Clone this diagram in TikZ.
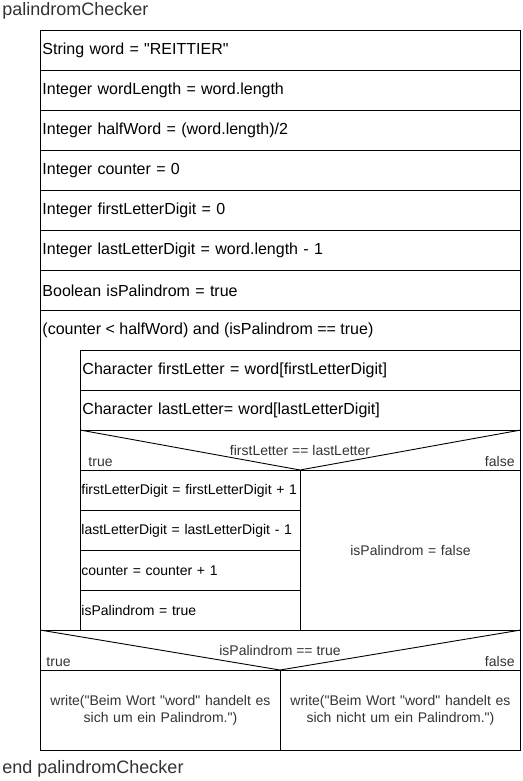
\documentclass[tikz,border=0pt]{standalone}
\usepackage{fontspec}
\setmainfont{Liberation Sans}
\newcommand{\dq}{\textquotedbl}
\begin{document}
\begin{tikzpicture}[x=1pt,y=-1pt,
  line width=0.9pt,
  big/.style={font=\fontsize{16}{19}\selectfont},
  small/.style={font=\fontsize{14}{16.5}\selectfont},
  cell/.style={draw, anchor=north west, inner xsep=2pt, inner ysep=0pt, align=left, big},
  scell/.style={draw, anchor=north west, inner xsep=1pt, inner ysep=0pt, align=left, small},
  ccell/.style={draw, anchor=north west, inner xsep=2pt, inner ysep=0pt, align=center, small, text=grey},
  lbl/.style={inner sep=0pt, small, text=grey},
]
\definecolor{grey}{HTML}{333333}
\useasboundingbox (0,0) rectangle (522,781);
\fill[white] (0,0) rectangle (522,781);

\node[anchor=west, inner sep=0pt, text=grey, font=\fontsize{18}{21}\selectfont] (title) at (2,11) {palindromChecker};

% outer frame
\node[draw, anchor=north west, minimum width=480pt, minimum height=720pt, inner sep=0pt] (frame) at (40,30) {};

\node[cell, minimum width=480pt, minimum height=40pt, text width=476pt] (r1) at (40,30) {String word = \dq REITTIER\dq};
\node[cell, minimum width=480pt, minimum height=40pt, text width=476pt] (r2) at (40,70) {Integer wordLength = word.length};
\node[cell, minimum width=480pt, minimum height=40pt, text width=476pt] (r3) at (40,110) {Integer halfWord = (word.length)/2};
\node[cell, minimum width=480pt, minimum height=40pt, text width=476pt] (r4) at (40,150) {Integer counter = 0};
\node[cell, minimum width=480pt, minimum height=40pt, text width=476pt] (r5) at (40,190) {Integer firstLetterDigit = 0};
\node[cell, minimum width=480pt, minimum height=40pt, text width=476pt] (r6) at (40,230) {Integer lastLetterDigit = word.length - 1};
\node[cell, minimum width=480pt, minimum height=40pt, text width=476pt] (r7) at (40,270) {Boolean isPalindrom = true};

% loop
\node[draw, anchor=north west, minimum width=480pt, minimum height=320pt, inner sep=0pt] (loop) at (40,310) {};
\node[anchor=west, inner xsep=2pt, big] (loophead) at (40,330) {(counter < halfWord) and (isPalindrom == true)};

\node[cell, minimum width=440pt, minimum height=40pt, text width=436pt] (l1) at (80,350) {Character firstLetter = word[firstLetterDigit]};
\node[cell, minimum width=440pt, minimum height=40pt, text width=436pt] (l2) at (80,390) {Character lastLetter= word[lastLetterDigit]};

% inner if
\node[draw, anchor=north west, minimum width=440pt, minimum height=40pt, inner sep=0pt] (if1) at (80,430) {};
\coordinate (if1apex) at (300,470);
\draw (if1.north west) -- (if1apex) -- (if1.north east);
\node[lbl, anchor=base] (if1cond) at (300,455) {firstLetter == lastLetter};
\node[lbl, anchor=base west] (if1t) at (88,466) {true};
\node[lbl, anchor=base east] (if1f) at (515,466) {false};

\node[scell, minimum width=220pt, minimum height=40pt, text width=218pt] (t1) at (80,470) {firstLetterDigit = firstLetterDigit + 1};
\node[scell, minimum width=220pt, minimum height=40pt, text width=218pt] (t2) at (80,510) {lastLetterDigit = lastLetterDigit - 1};
\node[scell, minimum width=220pt, minimum height=40pt, text width=218pt] (t3) at (80,550) {counter = counter + 1};
\node[scell, minimum width=220pt, minimum height=40pt, text width=218pt] (t4) at (80,590) {isPalindrom = true};
\node[ccell, minimum width=220pt, minimum height=160pt, text width=216pt] (f1) at (300,470) {isPalindrom = false};

% outer if
\node[draw, anchor=north west, minimum width=480pt, minimum height=40pt, inner sep=0pt] (if2) at (40,630) {};
\coordinate (if2apex) at (280,670);
\draw (if2.north west) -- (if2apex) -- (if2.north east);
\node[lbl, anchor=base] (if2cond) at (280,655) {isPalindrom == true};
\node[lbl, anchor=base west] (if2t) at (46,666) {true};
\node[lbl, anchor=base east] (if2f) at (515,666) {false};

\node[ccell, minimum width=240pt, minimum height=80pt, text width=236pt] (w1) at (40,670) {write(\dq Beim Wort \dq word\dq{} handelt es\\sich um ein Palindrom.\dq)};
\node[ccell, minimum width=240pt, minimum height=80pt, text width=236pt] (w2) at (280,670) {write(\dq Beim Wort \dq word\dq{} handelt es\\sich nicht um ein Palindrom.\dq)};

\node[anchor=west, inner sep=0pt, text=grey, font=\fontsize{18}{21}\selectfont] (endtitle) at (2,769) {end palindromChecker};
\end{tikzpicture}
\end{document}
